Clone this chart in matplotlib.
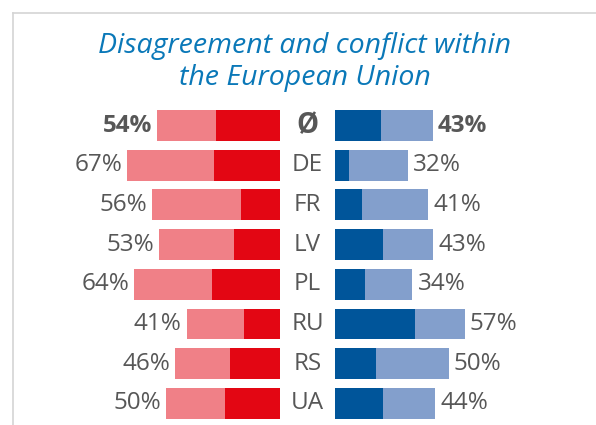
import matplotlib
matplotlib.use('Agg')
import matplotlib.pyplot as plt
from matplotlib.lines import Line2D

# data (shares in %)
rows = ['Ø', 'DE', 'FR', 'LV', 'PL', 'RU', 'RS', 'UA']
left_total = [54, 67, 56, 53, 64, 41, 46, 50]
left_dark = [28, 29, 17, 20, 30, 16, 22, 24]
right_total = [43, 32, 41, 43, 34, 57, 50, 44]
right_dark = [20, 6, 12, 21, 13, 35, 18, 21]
title_lines = ['Disagreement and conflict within', 'the European Union']

c_red_dark = '#e30613'
c_red_light = '#f08087'
c_blue_dark = '#00559a'
c_blue_light = '#839fcc'
c_text = '#575757'
c_title = '#0a78b8'

W, H, dpi = 596, 425, 100
px = 2.28      # pixels per percent
gap = 24.1     # middle gap in percent units
fig = plt.figure(figsize=(W/dpi, H/dpi), dpi=dpi)
ax = fig.add_axes([0, 0, 1, 1])
ax.set_xlim(-307.5/px, (W-307.5)/px)
ax.set_ylim((H-125.5)/39.7, -125.5/39.7)
ax.axis('off')

h = 0.78
y = list(range(len(rows)))
half = gap/2
left_light = [t-d for t, d in zip(left_total, left_dark)]
right_light = [t-d for t, d in zip(right_total, right_dark)]

ax.barh(y, left_dark, left=[-half-d for d in left_dark], height=h, color=c_red_dark)
ax.barh(y, left_light, left=[-half-t for t in left_total], height=h, color=c_red_light)
ax.barh(y, right_dark, left=half, height=h, color=c_blue_dark)
ax.barh(y, right_light, left=[half+d for d in right_dark], height=h, color=c_blue_light)

for i, r in enumerate(rows):
    bold = (i == 0)
    fw = 'bold' if bold else 'normal'
    ax.text(-half-left_total[i]-2.2, i, f'{left_total[i]}%', ha='right', va='center',
            fontsize=17.5, color=c_text, fontweight=fw, family='Open Sans')
    ax.text(half+right_total[i]+2.2, i, f'{right_total[i]}%', ha='left', va='center',
            fontsize=17.5, color=c_text, fontweight=fw, family='Open Sans')
    ax.text(0, i, r, ha='center', va='center', fontsize=20 if bold else 17.5,
            color=c_text, fontweight=fw, family='Open Sans')

for k, line in enumerate(title_lines):
    fig.text(305/W, 1-(53+32*k)/H, line, ha='center', va='baseline', fontsize=20.5,
             style='italic', color=c_title, family='Open Sans')

# frame
fig.add_artist(Line2D([12.5/W, 12.5/W], [0, 1-12.5/H], color='#d4d4d4', lw=1.2))
fig.add_artist(Line2D([12.5/W, 1], [1-12.5/H, 1-12.5/H], color='#d4d4d4', lw=1.2))

fig.savefig('out.png', dpi=dpi)
